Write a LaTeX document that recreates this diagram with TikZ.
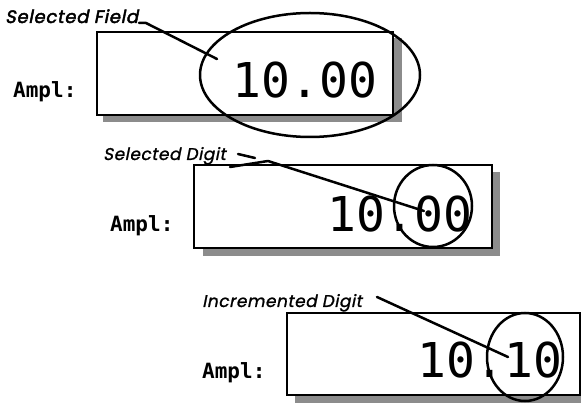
\documentclass[tikz,border=0pt]{standalone}
\usepackage{fontspec}
\newfontfamily\lcdfont{DejaVu Sans Mono}
\newfontfamily\tagfont{Poppins}[FakeSlant=0.2, FakeBold=1.2, LetterSpace=3]
\newfontfamily\boldtagfont{Poppins}[FakeSlant=0.2, FakeBold=2.5, LetterSpace=4]
\tikzset{
	shadow/.style={fill=black!45, draw=none},
	panel/.style={draw, line width=2pt, fill=white},
	ring/.style={draw, line width=2.5pt},
	leader/.style={line width=2.5pt, line cap=round, line join=round},
	readout/.style={font=\lcdfont\fontsize{48}{48}\selectfont, inner sep=0pt, anchor=base},
	ampl/.style={font=\lcdfont\bfseries\fontsize{21}{21}\selectfont, inner sep=0pt, anchor=base west},
	tag/.style={font=\tagfont\fontsize{17}{17}\selectfont, inner sep=0pt, anchor=base west},
}
\begin{document}
\begin{tikzpicture}[x=1pt, y=-1pt]
		\clip (0,0) rectangle (581,403);

		% selected field
		\fill [shadow] (103,38) rectangle (402,122);
		\draw [panel] (97,32) rectangle (393,115);
		\node [ampl] (ampl1) at (13,98) {Ampl:};
		\node [readout] (val1) at (305,98) {10.00};
		\node [tag, font=\boldtagfont\fontsize{18}{18}\selectfont] (fieldtag) at (5,23) {Selected Field};
		\coordinate (fieldstart) at (139,23);
		\coordinate (fieldend) at (217,59);
		\draw [ring] (310,75) ellipse [x radius=110, y radius=62];
		\draw [leader] (fieldstart) -- ++(7,0) -- (fieldend);

		% selected digit
		\fill [shadow] (203,172) rectangle (500,256);
		\draw [panel] (194,165) rectangle (492,248);
		\node [ampl] (ampl2) at (110,232) {Ampl:};
		\node [readout] (val2) at (400,232) {10.00};
		\node [tag] (digittag) at (103,160) {Selected Digit};
		\coordinate (digitstart) at (230,167);
		\coordinate (digitend) at (424,211);
		\draw [ring] (433,206) ellipse [x radius=39, y radius=41];
		\draw [leader] (238,154) -- (255,158);
		\draw [leader] (digitstart) -- (268,161) -- (digitend);

		% incremented digit
		\fill [shadow] (295,321) rectangle (590,403);
		\draw [panel] (287,313) rectangle (580,395);
		\node [ampl] (ampl3) at (202,378) {Ampl:};
		\node [readout] (val3) at (490,377) {10.10};
		\node [tag] (inctag) at (202,307) {Incremented Digit};
		\coordinate (incstart) at (377,297);
		\coordinate (incend) at (508,357);
		\draw [ring] (525,357) ellipse [x radius=38, y radius=44];
		\draw [leader] (incstart) -- (incend);
\end{tikzpicture}
\end{document}
